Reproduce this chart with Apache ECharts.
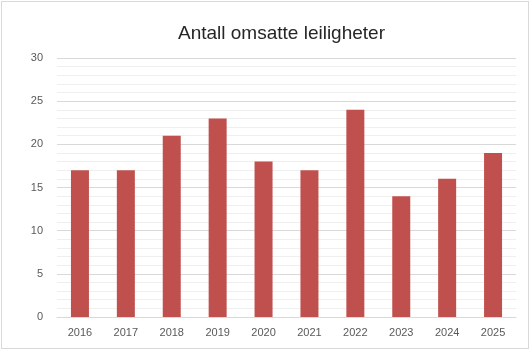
<!DOCTYPE html>
<html><head><meta charset="utf-8">
<script src="https://cdn.jsdelivr.net/npm/echarts@6/dist/echarts.min.js"></script>
<style>html,body{margin:0;padding:0;background:#fff}#c{position:absolute;left:1px;top:1px;width:528px;height:348px;border:1px solid #d9d9d9;box-sizing:border-box}</style>
</head><body><div id="c"></div>
<script>
const title = 'Antall omsatte leiligheter';
const years = ['2016','2017','2018','2019','2020','2021','2022','2023','2024','2025'];
const sales = [17,17,21,23,18,17,24,14,16,19];
const chart = echarts.init(document.getElementById('c'));
chart.setOption({
  animation:false,
  title:{text:title,left:171,top:17,textStyle:{fontFamily:'Liberation Sans',fontSize:19,fontWeight:'normal',color:'#262626'}},
  grid:{left:55,right:12,top:56,bottom:31},
  xAxis:{type:'category',data:years,axisTick:{show:false},axisLine:{lineStyle:{color:'#d9d9d9'}},
    axisLabel:{color:'#595959',fontFamily:'Liberation Sans',fontSize:11,margin:10}},
  yAxis:{type:'value',min:0,max:30,interval:5,axisLabel:{color:'#595959',fontFamily:'Liberation Sans',fontSize:11,margin:14},
    splitLine:{lineStyle:{color:'#d9d9d9'}},minorTick:{show:false,splitNumber:5},
    minorSplitLine:{show:true,lineStyle:{color:'#efefef'}}},
  series:[{type:'bar',data:sales,barWidth:18,itemStyle:{color:'#c0504d'}}]
});
</script></body></html>
